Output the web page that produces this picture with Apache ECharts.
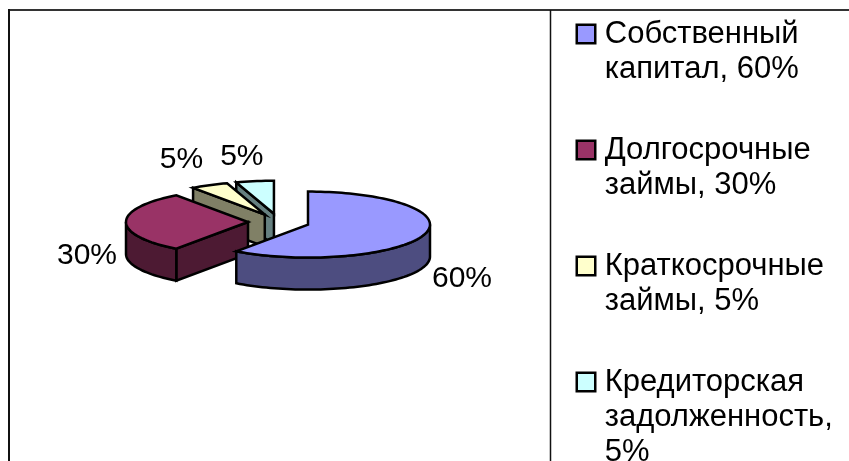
<!DOCTYPE html>
<html>
<head>
<meta charset="utf-8">
<style>
  html, body { margin: 0; padding: 0; background: #fff; }
  #chart { width: 849px; height: 461px; }
</style>
<script src="https://cdn.jsdelivr.net/npm/echarts@6/dist/echarts.min.js"></script>
</head>
<body>
<div id="chart"></div>
<script>
const categories = ['Собственный\nкапитал', 'Долгосрочные\nзаймы', 'Краткосрочные\nзаймы', 'Кредиторская\nзадолженность'];
const values = [60, 30, 5, 5];
const legendSeparators = [', ', ', ', ', ', ',\n'];
const topColors = ['#9999ff', '#993366', '#ffffcc', '#ccffff'];
const wallColors = ['#4d4d80', '#4d1a33', '#808066', '#668080'];
const labelOffsets = [[38, 44], [-39, 34], [-28, -25], [-13, -24]];
// back to front, the big slice goes on top
const drawOrder = [3, 2, 1, 0];

const FONT = 'Liberation Sans';
const LABEL_SIZE = 30;
const LEGEND_SIZE = 31;
const LINE_HEIGHT = 35;
const CX = 278.75, CY = 222, RX = 122, RY = 33, DEPTH = 32, EXPLODE = 30.75;

const total = values.reduce((a, b) => a + b, 0);
const legendNames = categories.map((c, i) => c + legendSeparators[i] + values[i] + '%');
const toRad = d => d * Math.PI / 180;

// point on the ellipse, 0 deg is 12 o'clock and goes clockwise
const rimPoint = (c, deg, dy = 0) => [
  c[0] + RX * Math.sin(toRad(deg)),
  c[1] - RY * Math.cos(toRad(deg)) + dy
];

const arcPoints = (c, from, to, dy = 0) => {
  const pts = [];
  const n = Math.max(2, Math.ceil((to - from) / 2));
  for (let i = 0; i <= n; i++) pts.push(rimPoint(c, from + (to - from) * i / n, dy));
  return pts;
};

const facet = (points, fill) => ({
  type: 'polygon',
  shape: { points },
  style: { fill, stroke: '#000', lineWidth: 2.5, lineJoin: 'miter' }
});

const renderSlice = idx => (params, api) => {
  const value = api.value(0);
  const before = values.slice(0, idx).reduce((a, b) => a + b, 0);
  const a = before / total * 360;
  const b = a + value / total * 360;
  const mid = (a + b) / 2;
  const c = [
    CX + EXPLODE * Math.sin(toRad(mid)),
    CY - EXPLODE * (RY / RX) * Math.cos(toRad(mid))
  ];
  const children = [];

  // cut face on the start side, only when it looks towards the viewer
  if (Math.sin(toRad(a)) < -0.001) {
    const p = rimPoint(c, a);
    children.push(facet([c, p, [p[0], p[1] + DEPTH], [c[0], c[1] + DEPTH]], wallColors[idx]));
  }
  // outer wall, front half of the ellipse only
  const from = Math.max(a, 90), to = Math.min(b, 270);
  if (to > from) {
    children.push(facet(arcPoints(c, from, to).concat(arcPoints(c, from, to, DEPTH).reverse()), wallColors[idx]));
  }
  children.push(facet([c].concat(arcPoints(c, a, b)), topColors[idx]));

  const rim = rimPoint(c, mid);
  children.push({
    type: 'text',
    style: {
      text: value + '%',
      x: rim[0] + labelOffsets[idx][0],
      y: rim[1] + labelOffsets[idx][1],
      fill: '#000',
      fontFamily: FONT,
      fontSize: LABEL_SIZE,
      align: 'center',
      verticalAlign: 'middle'
    }
  });
  return { type: 'group', children };
};

const frame = [
  { type: 'line', shape: { x1: 9, y1: 10, x2: 849, y2: 10 }, style: { stroke: '#333', lineWidth: 2 } },
  { type: 'line', shape: { x1: 9, y1: 9, x2: 9, y2: 461 }, style: { stroke: '#111', lineWidth: 2 } },
  { type: 'line', shape: { x1: 550.5, y1: 10, x2: 550.5, y2: 461 }, style: { stroke: '#111', lineWidth: 1.5 } }
];

// legend text is centred on its icon, so every row becomes 5 lines high
// with the first real line in the middle one
const legendText = name => {
  const lines = ['', ''].concat(name.split('\n'));
  while (lines.length < 5) lines.push('');
  return lines.map(l => '{g| }' + l).join('\n');
};

const myChart = echarts.init(document.getElementById('chart'), null, { renderer: 'canvas' });

myChart.setOption({
  animation: false,
  backgroundColor: '#fff',
  graphic: { elements: frame },
  legend: {
    orient: 'vertical',
    left: 575.5,
    top: 34 - LINE_HEIGHT * 2.5,
    height: 1000,
    padding: 0,
    itemWidth: 18.5,
    itemHeight: 18.5,
    itemGap: 116 - LINE_HEIGHT * 5,
    icon: 'rect',
    selectedMode: false,
    itemStyle: { borderColor: '#000', borderWidth: 2.5 },
    textStyle: {
      fontFamily: FONT,
      fontSize: LEGEND_SIZE,
      lineHeight: LINE_HEIGHT,
      color: '#000',
      rich: { g: { width: 4.5, lineHeight: LINE_HEIGHT } }
    },
    formatter: legendText,
    data: legendNames
  },
  series: drawOrder.map(idx => ({
    type: 'custom',
    name: legendNames[idx],
    coordinateSystem: 'none',
    silent: true,
    itemStyle: { color: topColors[idx] },
    renderItem: renderSlice(idx),
    data: [[values[idx]]]
  }))
});
</script>
</body>
</html>
